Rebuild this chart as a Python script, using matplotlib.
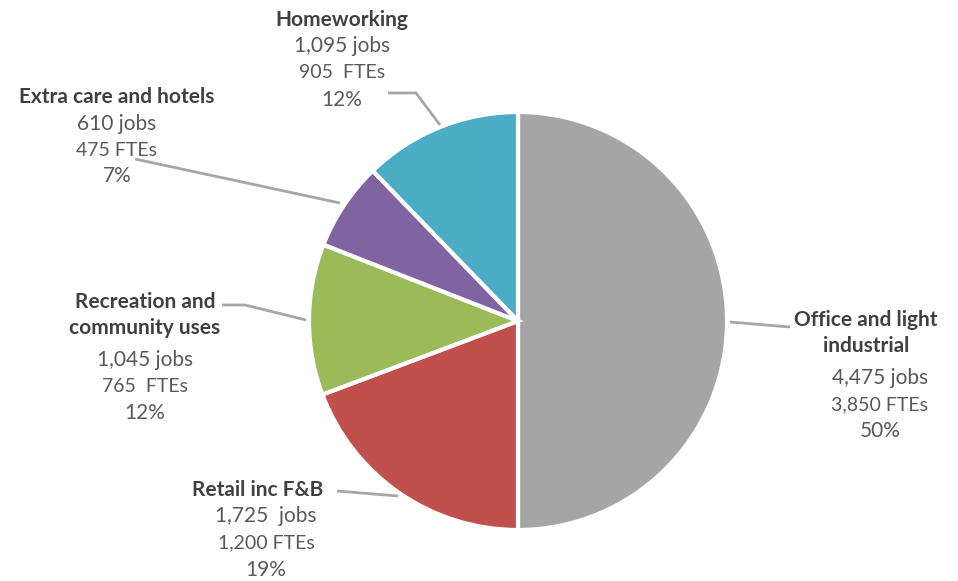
import matplotlib
matplotlib.use("Agg")
import matplotlib.pyplot as plt

# Employment floorspace breakdown
categories = ["Office and light\nindustrial", "Retail inc F&B",
              "Recreation and\ncommunity uses", "Extra care and hotels", "Homeworking"]
jobs = [4475, 1725, 1045, 610, 1095]
ftes = [3850, 1200, 765, 475, 905]
jobs_text = ["4,475 jobs", "1,725  jobs", "1,045 jobs", "610 jobs", "1,095 jobs"]
fte_text = ["3,850 FTEs", "1,200 FTEs", "765  FTEs", "475 FTEs", "905  FTEs"]
colors = ["#A5A5A5", "#C0504D", "#9BBB59", "#8064A2", "#4BACC6"]

W, H = 958, 581
fig = plt.figure(figsize=(W / 100, H / 100), dpi=100)
ax = fig.add_axes([0, 0, 1, 1])


def Y(y):
    return H - y


cx, cy, r = 518, 321, 209
ax.pie(jobs, colors=colors, startangle=90, counterclock=False,
       center=(cx, Y(cy)), radius=r, explode=[0.012, 0, 0, 0, 0],
       wedgeprops=dict(edgecolor="white", linewidth=3), frame=True)
ax.set_xlim(0, W)
ax.set_ylim(0, H)
ax.set_aspect("equal")
ax.axis("off")

total = sum(jobs)
pcts = [f"{round(100 * j / total)}%" for j in jobs]

FONT = "Lato"
TITLE_C = "#404040"
TEXT_C = "#595959"
LINE_C = "#A6A6A6"
step = 26.5

# label anchor (x centre, y of first line) per slice
label_pos = [(866, 320), (258, 490), (145, 302), (117, 97), (342, 20)]
# horizontal nudge of the figure lines relative to the title
num_dx = [14, 8, 0, 0, 0]
# leader lines in pixel coordinates
leaders = [
    [(730, 322), (790, 327)],
    [(337, 491), (398, 496)],
    [(222, 305), (245, 305), (306, 320)],
    [(135, 159), (340, 203)],
    [(388, 93), (416, 93), (440, 125)],
]

for i, name in enumerate(categories):
    x, y = label_pos[i]
    lines = name.split("\n")
    for k, ln in enumerate(lines):
        ax.text(x, Y(y + k * step), ln, ha="center", va="center",
                fontsize=15, fontweight="bold", color=TITLE_C, family=FONT)
    y0 = y + len(lines) * step + (5 if len(lines) > 1 else 0)
    xn = x + num_dx[i]
    ax.text(xn, Y(y0), jobs_text[i], ha="center", va="center",
            fontsize=15, color=TEXT_C, family=FONT)
    ax.text(xn, Y(y0 + step), fte_text[i], ha="center", va="center",
            fontsize=14, color=TEXT_C, family=FONT)
    ax.text(xn, Y(y0 + 2 * step), pcts[i], ha="center", va="center",
            fontsize=15, color=TEXT_C, family=FONT)

for pts in leaders:
    xs = [p[0] for p in pts]
    ys = [Y(p[1]) for p in pts]
    ax.plot(xs, ys, color=LINE_C, linewidth=2, solid_capstyle="butt")

fig.savefig("out.png", dpi=100, facecolor="white")
